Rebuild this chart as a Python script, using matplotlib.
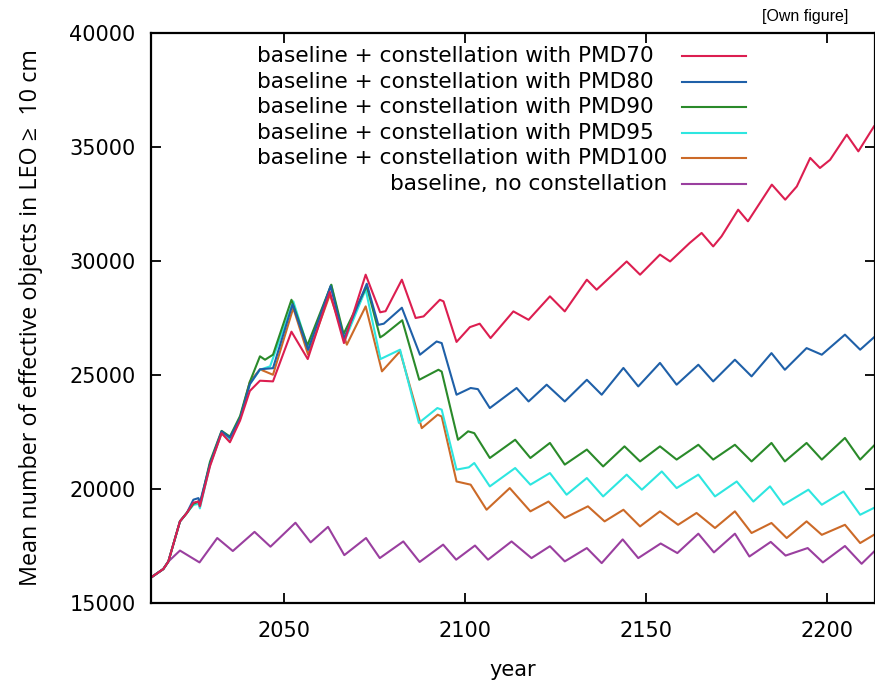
import matplotlib
matplotlib.use("Agg")
import matplotlib.pyplot as plt
from matplotlib.lines import Line2D

# Turning points of each run (year, mean number of objects >= 10 cm)
start_years = [2013.5, 2016.6, 2018.0, 2021.2, 2023.1, 2024.9, 2026.3, 2026.7,
               2029.5, 2032.7, 2035.0, 2037.8, 2040.5]

pmd70_years = start_years + [
    2043.3, 2046.9, 2052.0, 2056.5, 2062.6, 2066.5, 2072.5, 2076.5, 2078.0,
    2082.5, 2086.3, 2088.5, 2093.0, 2094.0, 2097.6, 2101.3, 2104.0, 2107.0,
    2109.0, 2113.3, 2117.5, 2123.4, 2127.5, 2133.6, 2136.3, 2144.6, 2148.3,
    2153.8, 2156.6, 2162.0, 2165.3, 2168.5, 2170.8, 2175.4, 2178.1, 2184.7,
    2188.4, 2191.6, 2195.3, 2198.0, 2200.8, 2205.4, 2208.6, 2212.9]
pmd70_values = [
    16150, 16490, 16820, 18580, 18950, 19400, 19450, 19240, 21000, 22450,
    22050, 23000, 24300,
    24750, 24720, 26900, 25700, 28650, 26400, 29400, 27750, 27800, 29180,
    27500, 27570, 28300, 28230, 26450, 27100, 27250, 26620, 26990, 27790,
    27420, 28450, 27790, 29180, 28740, 29980, 29400, 30280, 29980, 30790,
    31230, 30640, 31080, 32250, 31740, 33350, 32690, 33270, 34520, 34080,
    34440, 35540, 34810, 35900]

pmd80_years = start_years + [
    2043.3, 2046.9, 2052.3, 2056.6, 2062.8, 2066.5, 2072.8, 2076.0, 2077.5,
    2082.5, 2087.5, 2092.1, 2093.5, 2097.6, 2101.5, 2103.5, 2106.8, 2114.2,
    2117.5, 2122.5, 2127.5, 2133.6, 2137.7, 2143.7, 2147.8, 2153.8, 2158.4,
    2164.4, 2168.5, 2174.5, 2179.1, 2184.6, 2188.3, 2194.3, 2198.5, 2204.9,
    2209.1, 2212.9]
pmd80_values = [
    16150, 16490, 16820, 18580, 18950, 19530, 19600, 19400, 21100, 22530,
    22250, 23100, 24600,
    25250, 25300, 28100, 26100, 28900, 26600, 29000, 27200, 27250, 27950,
    25890, 26470, 26400, 24135, 24430, 24380, 23550, 24430, 23840, 24575,
    23840, 24790, 24135, 25310, 24500, 25530, 24575, 25450, 24720, 25670,
    24940, 25960, 25230, 26180, 25890, 26770, 26110, 26650]

pmd90_years = start_years + [
    2043.3, 2044.7, 2046.9, 2052.0, 2056.4, 2063.0, 2066.4, 2072.8, 2076.5,
    2077.5, 2082.6, 2087.3, 2092.6, 2093.5, 2098.0, 2100.8, 2102.5, 2106.8,
    2113.8, 2118.0, 2123.4, 2127.5, 2133.6, 2138.1, 2144.0, 2148.3, 2153.8,
    2158.4, 2164.4, 2168.5, 2174.5, 2179.1, 2184.6, 2188.3, 2194.3, 2198.5,
    2204.9, 2209.1, 2212.9]
pmd90_values = [
    16150, 16490, 16820, 18580, 18950, 19350, 19450, 19300, 21200, 22550,
    22300, 23200, 24700,
    25820, 25670, 25890, 28300, 26300, 28960, 26800, 28900, 26650, 26750,
    27400, 24790, 25230, 25150, 22160, 22530, 22450, 21360, 22160, 21360,
    22020, 21070, 21730, 20990, 21870, 21210, 21870, 21290, 21940, 21290,
    21940, 21210, 22020, 21210, 22020, 21290, 22240, 21290, 21900]

pmd95_years = start_years + [
    2043.3, 2046.1, 2052.5, 2056.6, 2063.0, 2066.6, 2072.5, 2076.6, 2082.0,
    2087.2, 2092.3, 2093.5, 2097.6, 2101.0, 2102.5, 2106.8, 2113.8, 2118.0,
    2123.4, 2128.0, 2133.6, 2138.1, 2144.6, 2148.8, 2154.3, 2158.4, 2164.4,
    2169.0, 2175.0, 2179.6, 2184.2, 2187.9, 2194.8, 2198.5, 2204.5, 2209.1,
    2212.9]
pmd95_values = [
    16150, 16490, 16820, 18580, 18950, 19300, 19350, 19150, 21050, 22450,
    22150, 23100, 24600,
    25230, 25380, 28230, 26180, 28950, 26470, 28750, 25700, 26110, 22900,
    23550, 23480, 20850, 20950, 21140, 20115, 20920, 20190, 20700, 19750,
    20480, 19675, 20630, 19970, 20770, 20040, 20630, 19675, 20330, 19450,
    20115, 19310, 19970, 19310, 19890, 18870, 19170]

pmd100_years = start_years + [
    2043.3, 2046.9, 2052.5, 2056.6, 2062.6, 2067.3, 2072.5, 2077.0, 2082.0,
    2088.0, 2092.4, 2093.5, 2097.6, 2101.5, 2105.9, 2112.3, 2118.0, 2123.0,
    2127.5, 2133.9, 2138.5, 2143.7, 2148.3, 2153.8, 2158.8, 2163.9, 2169.0,
    2174.5, 2179.1, 2184.6, 2188.8, 2194.3, 2198.5, 2204.9, 2209.1, 2212.9]
pmd100_values = [
    16150, 16490, 16820, 18580, 18950, 19350, 19450, 19240, 21100, 22450,
    22100, 23100, 24700,
    25250, 25010, 27940, 25890, 28520, 26330, 28010, 25160, 26040, 22670,
    23260, 23180, 20330, 20190, 19090, 20040, 19020, 19450, 18730, 19240,
    18580, 19090, 18360, 19020, 18430, 18950, 18290, 19020, 18070, 18510,
    17850, 18580, 17990, 18430, 17630, 17990]

baseline_years = [
    2013.5, 2016.6, 2018.0, 2021.2, 2026.6, 2031.5, 2035.8, 2041.8, 2046.2,
    2053.1, 2057.3, 2062.1, 2066.6, 2072.6, 2076.4, 2082.9, 2087.4, 2093.9,
    2097.5, 2102.7, 2106.3, 2112.8, 2118.3, 2123.4, 2127.5, 2133.6, 2137.7,
    2143.5, 2147.8, 2154.0, 2158.6, 2164.4, 2168.7, 2174.5, 2178.5, 2184.4,
    2188.5, 2194.6, 2198.8, 2204.9, 2209.5, 2212.9]
baseline_values = [
    16150, 16490, 16820, 17300, 16780, 17850, 17280, 18120, 17470, 18520,
    17660, 18340, 17100, 17850, 16970, 17700, 16800, 17560, 16900, 17520,
    16900, 17700, 16970, 17490, 16825, 17410, 16750, 17790, 16970, 17610,
    17190, 18040, 17220, 18040, 17040, 17680, 17080, 17410, 16780, 17500,
    16720, 17250]

labels = ["baseline + constellation with PMD70",
          "baseline + constellation with PMD80",
          "baseline + constellation with PMD90",
          "baseline + constellation with PMD95",
          "baseline + constellation with PMD100",
          "baseline, no constellation"]
colors = ["#dc1e50", "#1f60a8", "#2a8a2a", "#2ee6e0", "#cc6a28", "#9a3f9f"]

series = [(pmd70_years, pmd70_values), (pmd80_years, pmd80_values),
          (pmd90_years, pmd90_values), (pmd95_years, pmd95_values),
          (pmd100_years, pmd100_values), (baseline_years, baseline_values)]

W, H = 875, 680
fig = plt.figure(figsize=(W / 100, H / 100), dpi=100)
# axes box in pixels: left 151, right 875, top 33, bottom 603
ax = fig.add_axes([151 / W, (H - 603) / H, 724 / W, 570 / H])

# draw from the bottom entry up so PMD70 ends on top
for (xs, ys), c in reversed(list(zip(series, colors))):
    ax.plot(xs, ys, color=c, linewidth=1.5, solid_joinstyle="round")

ax.set_xlim(2013.2, 2213.2)
ax.set_ylim(15000, 40000)
ax.set_xticks([2050, 2100, 2150, 2200])
ax.set_yticks([15000, 20000, 25000, 30000, 35000, 40000])

for side in ax.spines.values():
    side.set_linewidth(1.6)
ax.tick_params(direction="in", length=7, width=1.3, labelsize=15,
               top=True, right=True, pad=11)
ax.tick_params(axis="x", pad=13)

ax.set_xlabel("year", fontsize=15, labelpad=14)
ax.set_ylabel("Mean number of effective objects in LEO \u2265  10 cm",
              fontsize=16.8, family="Open Sans", labelpad=19)

# gnuplot-style key: text first, then a short sample line
def fx(px):
    return (px - 151) / 724

def fy(py):
    return (603 - py) / 570

rows = [56, 81.7, 107, 132.7, 158, 183.7]
for i, (lab, c, py) in enumerate(zip(labels, colors, rows)):
    if i < 5:
        ax.text(fx(257), fy(py), lab, transform=ax.transAxes, fontsize=15.6,
                ha="left", va="center")
    else:
        ax.text(fx(667), fy(py), lab, transform=ax.transAxes, fontsize=15.6,
                ha="right", va="center")
    ax.add_line(Line2D([fx(682), fx(746)], [fy(py), fy(py)], color=c,
                       linewidth=1.5, transform=ax.transAxes))

fig.text(805 / W, 1 - 17 / H, "[Own figure]", fontsize=11.5,
         family="Liberation Sans", ha="center", va="center")

fig.savefig("out.png", dpi=100)
